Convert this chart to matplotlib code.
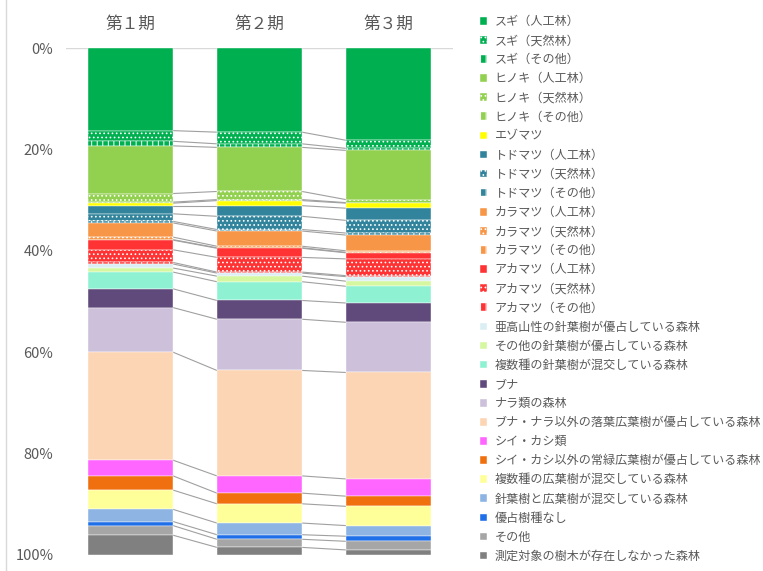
import matplotlib
matplotlib.use("Agg")
import matplotlib.pyplot as plt
from matplotlib.lines import Line2D
import numpy as np

plt.rcParams['font.family'] = ['Noto Sans CJK JP', 'DejaVu Sans']
plt.rcParams['hatch.linewidth'] = 0.7

periods = ['第１期', '第２期', '第３期']

labels = [
    'スギ（人工林）', 'スギ（天然林）', 'スギ（その他）',
    'ヒノキ（人工林）', 'ヒノキ（天然林）', 'ヒノキ（その他）',
    'エゾマツ',
    'トドマツ（人工林）', 'トドマツ（天然林）', 'トドマツ（その他）',
    'カラマツ（人工林）', 'カラマツ（天然林）', 'カラマツ（その他）',
    'アカマツ（人工林）', 'アカマツ（天然林）', 'アカマツ（その他）',
    '亜高山性の針葉樹が優占している森林',
    'その他の針葉樹が優占している森林',
    '複数種の針葉樹が混交している森林',
    'ブナ',
    'ナラ類の森林',
    'ブナ・ナラ以外の落葉広葉樹が優占している森林',
    'シイ・カシ類',
    'シイ・カシ以外の常緑広葉樹が優占している森林',
    '複数種の広葉樹が混交している森林',
    '針葉樹と広葉樹が混交している森林',
    '優占樹種なし',
    'その他',
    '測定対象の樹木が存在しなかった森林',
]

# share (%) of plots in each period
period1 = [16.3, 2.1, 0.9, 9.4, 1.7, 0.2, 0.5, 1.6, 1.5, 0.3, 2.8, 0.5, 0.1,
           1.9, 2.5, 0.3, 0.8, 0.8, 3.3, 3.7, 8.8, 21.3, 3.1, 2.8, 3.8, 2.4,
           0.8, 1.9, 3.9]
period2 = [16.6, 2.3, 0.7, 8.7, 1.6, 0.2, 1.0, 2.1, 2.6, 0.3, 3.0, 0.3, 0.1,
           1.8, 2.9, 0.2, 0.6, 1.1, 3.7, 3.7, 10.1, 20.8, 3.4, 2.1, 3.8, 2.3,
           0.9, 1.6, 1.5]
period3 = [18.2, 1.6, 0.4, 9.7, 0.6, 0.1, 1.0, 2.4, 2.5, 0.4, 3.1, 0.3, 0.1,
           1.2, 3.3, 0.2, 0.9, 1.0, 3.3, 3.8, 9.9, 21.0, 3.4, 2.0, 3.8, 2.1,
           1.0, 1.7, 1.0]

colors = [
    '#00B050', '#00B050', '#00B050',
    '#92D050', '#92D050', '#92D050',
    '#FFFF00',
    '#31849B', '#31849B', '#31849B',
    '#F79646', '#F79646', '#F79646',
    '#FF3333', '#FF3333', '#FF3333',
    '#DAEEF3', '#D4F7A0', '#8EF2D2', '#604A7B', '#CCC0DA', '#FCD5B5',
    '#FF66FF', '#F07010', '#FFFF99', '#8DB4E2', '#1F6FE8', '#A6A6A6',
    '#808080',
]
hatches = ['', '....', '|||'] * 2 + [''] + ['', '....', '|||'] * 3 + [''] * 13

data = np.array([period1, period2, period3])  # periods x series
x = np.arange(len(periods))
w = 0.66

fig = plt.figure(figsize=(7.63, 5.71), dpi=100)
ax = fig.add_axes([66 / 763, 1 - 555 / 571, 387 / 763, 507 / 571])

bottom = np.zeros(len(periods))
for k, lab in enumerate(labels):
    ax.bar(x, data[:, k], w, bottom=bottom, color=colors[k], hatch=hatches[k],
           edgecolor='white', linewidth=0.3, label=lab, zorder=2)
    bottom += data[:, k]

# series lines between neighbouring bars
cum = np.cumsum(data, axis=1)
for i in range(len(periods) - 1):
    for k in range(len(labels) - 1):
        ax.plot([x[i] + w / 2, x[i + 1] - w / 2], [cum[i, k], cum[i + 1, k]],
                color='#a0a0a0', lw=0.8, zorder=1)

ax.set_xlim(-0.5, 2.5)
ax.set_ylim(100, 0)
ax.axhline(0, color='#d9d9d9', lw=1, zorder=0)
for s in ax.spines.values():
    s.set_visible(False)

ax.set_yticks(np.arange(0, 101, 20))
ax.set_yticklabels([f'{v}%' for v in range(0, 101, 20)])
ax.tick_params(axis='y', length=0, pad=9, labelsize=10.5, labelcolor='#595959')
ax.xaxis.tick_top()
ax.set_xticks(x)
ax.set_xticklabels(periods)
ax.tick_params(axis='x', length=0, pad=11, labelsize=12, labelcolor='#595959')

fig.legend(loc='upper left', bbox_to_anchor=(480 / 763, 1 - 15 / 571),
           frameon=False, fontsize=8.7, labelcolor='#595959',
           handlelength=0.6, handleheight=0.6, handletextpad=0.6,
           labelspacing=0.505, borderaxespad=0, borderpad=0)

fig.add_artist(Line2D([6 / 763, 6 / 763], [0, 1], transform=fig.transFigure,
                      color='#d9d9d9', lw=1))

fig.savefig('out.png', dpi=100)
